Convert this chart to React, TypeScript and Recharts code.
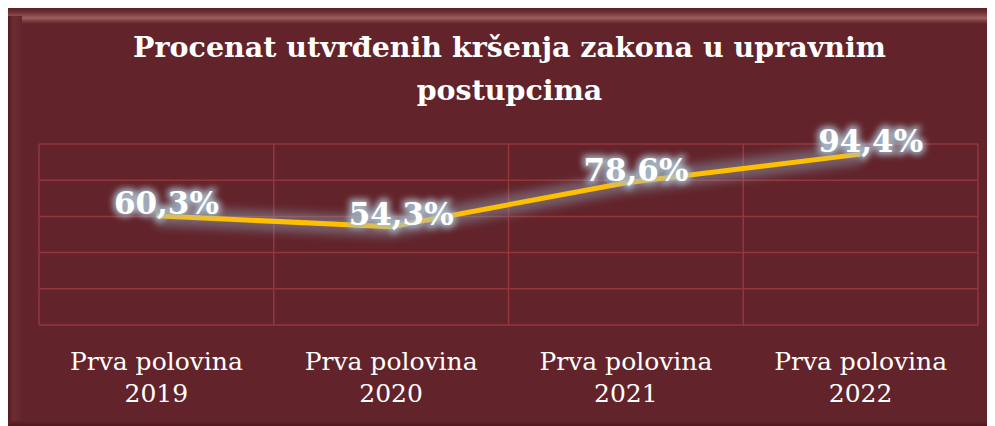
import { LineChart, Line, XAxis, YAxis, CartesianGrid, LabelList } from 'recharts'

const categories = ['Prva polovina 2019', 'Prva polovina 2020', 'Prva polovina 2021', 'Prva polovina 2022']
const values = [60.3, 54.3, 78.6, 94.4]
const valueLabels = ['60,3%', '54,3%', '78,6%', '94,4%']
const yTicks = [0, 20, 40, 60, 80, 100]

const data = categories.map((c, i) => ({ name: c, value: values[i], label: valueLabels[i] }))

const SERIF = '"DejaVu Serif", Cambria, serif'
const BG = '#62232A'
const GRID = '#93373C'
const W = 987
const H = 419

function CategoryTick(props: any) {
  const { x, y, payload } = props
  const parts = String(payload.value).split(' ')
  const first = parts.slice(0, 2).join(' ')
  const second = parts.slice(2).join(' ')
  return (
    <text x={x} y={y} textAnchor="middle" fill="#FFFFFF" fontFamily={SERIF} fontSize={25}>
      <tspan x={x} dy={37}>{first}</tspan>
      <tspan x={x} dy={32}>{second}</tspan>
    </text>
  )
}

function ValueLabel(props: any) {
  const { x, y, index } = props
  const text = valueLabels[index]
  const tx = x + 10
  const ty = y - 2
  return (
    <g>
      <text x={tx} y={ty} textAnchor="middle" fontFamily={SERIF} fontWeight="bold" fontSize={31}
        fill="#A9BCCB" stroke="#A9BCCB" strokeWidth={6} opacity={0.9} filter="url(#textGlow)">{text}</text>
      <text x={tx} y={ty} textAnchor="middle" fontFamily={SERIF} fontWeight="bold" fontSize={31}
        fill="#FFFFFF">{text}</text>
    </g>
  )
}

// vertical grid lines on the category band boundaries
const bandBoundaries = ({ offset }: any) =>
  Array.from({ length: categories.length + 1 }, (_, i) => offset.left + (offset.width * i) / categories.length)

export default function App() {
  return (
    <div style={{ position: 'relative', width: W, height: H, background: BG, overflow: 'hidden' }}>
      <style>{'body{overflow:hidden}'}</style>
      {/* bevel edges */}
      <div style={{
        position: 'absolute', left: 0, top: 0, width: W, height: 16,
        background: 'linear-gradient(to bottom, #5a1e23 0px, #6e2f33 4px, #8c4c4f 8px, #a0605f 10px, #7c3b3f 13px, #62232A 16px)',
      }} />
      <div style={{
        position: 'absolute', left: 0, top: 8, width: 14, height: H - 8,
        background: 'linear-gradient(to right, #55191e 0px, #6c2c31 5px, #682a2f 10px, #62232A 14px)',
      }} />
      <div style={{
        position: 'absolute', left: 0, bottom: 0, width: W, height: 6,
        background: 'linear-gradient(to bottom, #62232A 0px, #4a171b 6px)',
      }} />
      <svg width={0} height={0} style={{ position: 'absolute' }}>
        <defs>
          <filter id="textGlow" x="-30%" y="-50%" width="160%" height="200%">
            <feGaussianBlur stdDeviation="3" />
          </filter>
          <filter id="lineGlow" x="-20%" y="-50%" width="140%" height="200%">
            <feGaussianBlur stdDeviation="5" />
          </filter>
        </defs>
      </svg>
      <div style={{
        position: 'absolute', top: 18, left: 16, width: W - 16, textAlign: 'center',
        color: '#FFFFFF', fontFamily: SERIF, fontWeight: 'bold', fontSize: 28.5, lineHeight: '43px',
      }}>
        Procenat utvrđenih kršenja zakona u upravnim<br />postupcima
      </div>
      <div style={{ position: 'absolute', top: 0, left: 0 }}>
        <LineChart width={W} height={H} data={data}
          margin={{ top: 136, right: 17, bottom: 5, left: 31 }}>
          <CartesianGrid stroke={GRID} strokeWidth={1.5} verticalCoordinatesGenerator={bandBoundaries} />
          <XAxis dataKey="name" scale="band" tick={<CategoryTick />} axisLine={false} tickLine={false} height={97} interval={0} />
          <YAxis domain={[0, 100]} ticks={yTicks} hide />
          <Line dataKey="value" stroke="#8FA6B8" strokeOpacity={0.45} strokeWidth={20} dot={false}
            filter="url(#lineGlow)" isAnimationActive={false} />
          <Line dataKey="value" stroke="#FFC000" strokeWidth={5} dot={false} isAnimationActive={false}>
            <LabelList dataKey="label" content={<ValueLabel />} />
          </Line>
        </LineChart>
      </div>
    </div>
  )
}
